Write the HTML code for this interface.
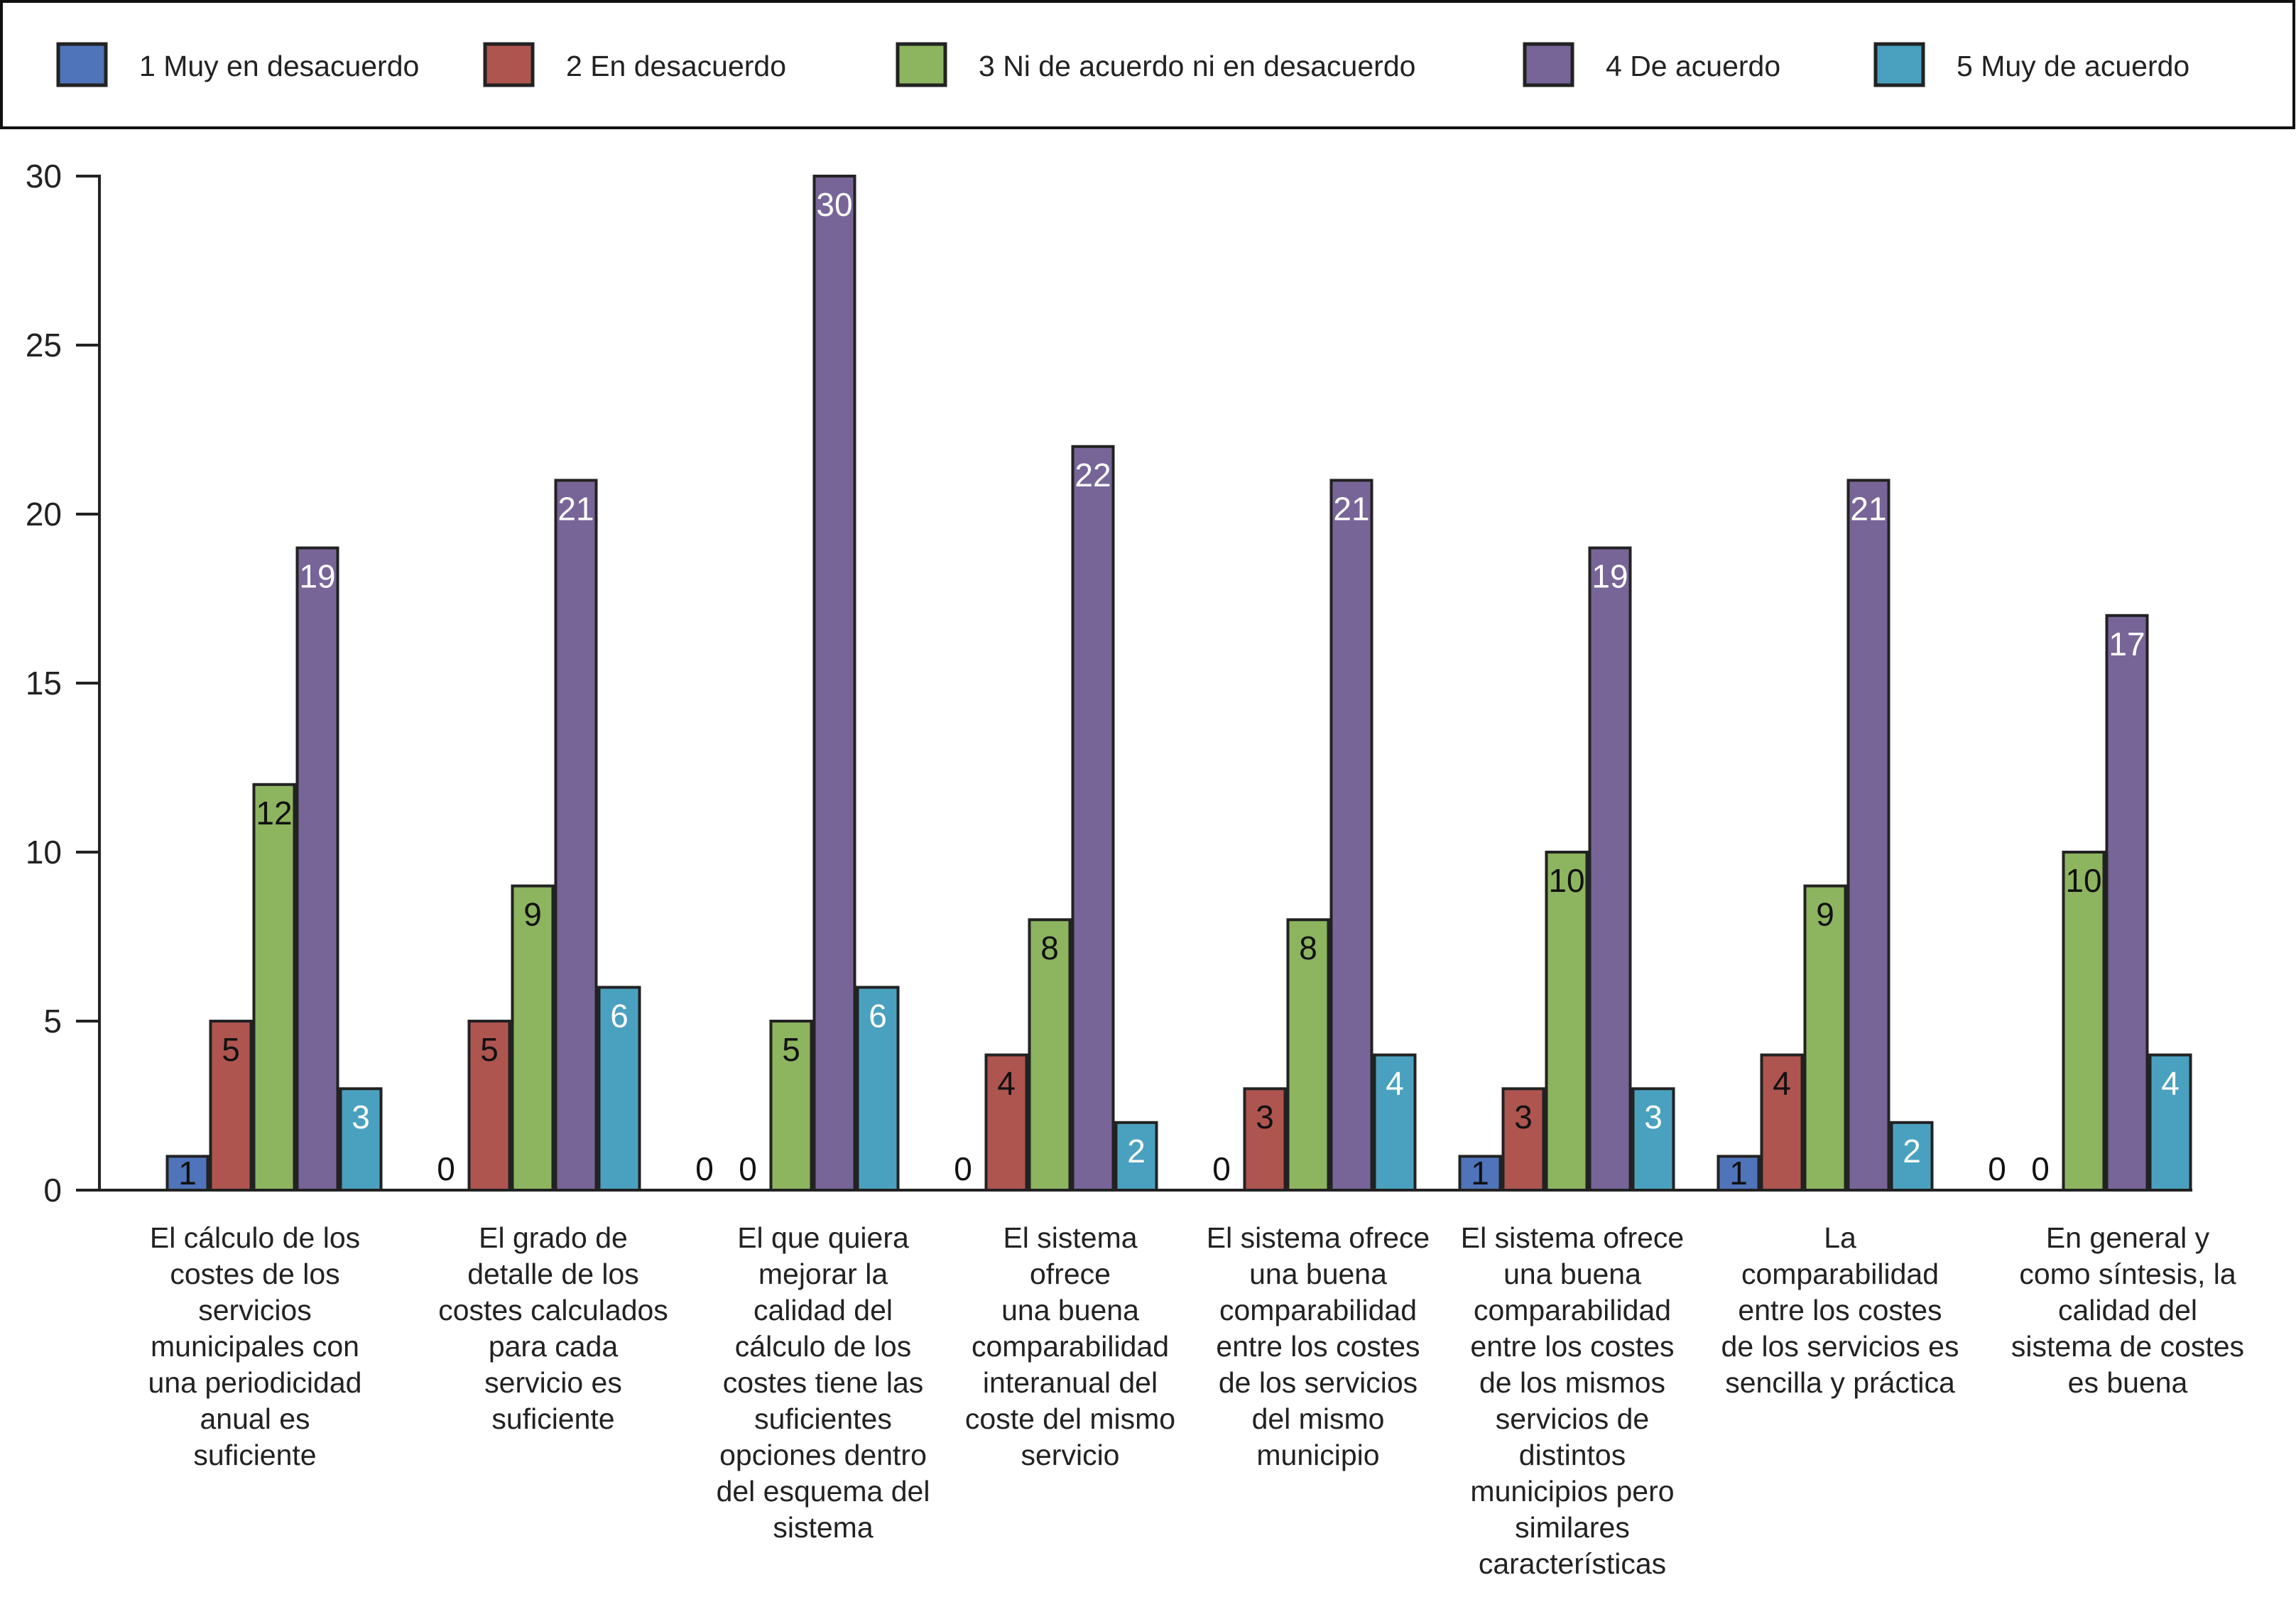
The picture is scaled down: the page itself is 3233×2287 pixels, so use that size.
<!DOCTYPE html>
<html><head><meta charset="utf-8"><style>
html,body{margin:0;padding:0;background:#fff;}
svg{display:block;font-family:"Liberation Sans",Arial,sans-serif;}
</style></head><body>
<svg id="chart" width="3233" height="2287" viewBox="0 0 3233 2287">
<rect x="2" y="2" width="3228" height="178" fill="#fff" stroke="#111" stroke-width="4"/>
<g id="legend"></g>
<g id="axes"></g>
<g id="bars"></g>
<g id="cats"></g>
</svg>
<script>
const seriesNames = ["1 Muy en desacuerdo","2 En desacuerdo","3 Ni de acuerdo  ni en desacuerdo","4 De acuerdo","5 Muy de acuerdo"];
const muyDesacuerdo = [1,0,0,0,0,1,1,0];
const desacuerdo = [5,5,0,4,3,3,4,0];
const neutral = [12,9,5,8,8,10,9,10];
const deAcuerdo = [19,21,30,22,21,19,21,17];
const muyDeAcuerdo = [3,6,6,2,4,3,2,4];
const yTicks = [0,5,10,15,20,25,30];
const categories = [
 ["El cálculo de los","costes de los","servicios","municipales con","una periodicidad","anual es","suficiente"],
 ["El grado de","detalle de los","costes calculados","para cada","servicio es","suficiente"],
 ["El que quiera","mejorar la","calidad del","cálculo de los","costes tiene las","suficientes","opciones dentro","del esquema del","sistema"],
 ["El sistema","ofrece","una buena","comparabilidad","interanual del","coste del mismo","servicio"],
 ["El sistema ofrece","una buena","comparabilidad","entre los costes","de los servicios","del mismo","municipio"],
 ["El sistema ofrece","una buena","comparabilidad","entre los costes","de los mismos","servicios de","distintos","municipios pero","similares","características"],
 ["La","comparabilidad","entre los costes","de los servicios es","sencilla y práctica"],
 ["En general y","como síntesis, la","calidad del","sistema de costes","es buena"]
];
const series = [muyDesacuerdo,desacuerdo,neutral,deAcuerdo,muyDeAcuerdo];
const colors = ["#4f74b9","#ae5550","#8db45f","#776598","#4aa1bf"];
const labelColors = ["#111","#111","#111","#fff","#fff"];
const NS="http://www.w3.org/2000/svg";
function mk(tag,attrs,parent,text){const e=document.createElementNS(NS,tag);for(const k in attrs)e.setAttribute(k,attrs[k]);if(text!==undefined)e.textContent=text;parent.appendChild(e);return e;}
const y0=1676, yTop=248, x0=140, xEnd=3087;
function yScale(v){return y0-(y0-yTop)*v/30;}
const barW=57, barStep=61;
function groupCenter(i){return 386+i*364;}
function barX(i,s){return groupCenter(i)+(s-2)*barStep-barW/2;}
const labelShift=[-27,29,45,29,14,8,21,62];
// legend
const lg=document.getElementById('legend');
const swX=[82,683,1264,2147,2641];
seriesNames.forEach((n,s)=>{
 const r=mk('rect',{x:swX[s],y:62,width:67,height:58,fill:colors[s],stroke:'#222','stroke-width':5},lg);
 
 
 const t=mk('text',{x:swX[s]+114,y:107,'font-size':41,fill:'#222','xml:space':'preserve'},lg,n);
 
 
});
// axes
const ax=document.getElementById('axes');
const yl=mk('line',{x1:x0,y1:yTop-2,x2:x0,y2:y0+2,stroke:'#222','stroke-width':4},ax);


const xl=mk('line',{x1:x0-2,y1:y0,x2:xEnd,y2:y0,stroke:'#222','stroke-width':4},ax);


yTicks.forEach(v=>{
 const tk=mk('line',{x1:107,y1:yScale(v),x2:x0,y2:yScale(v),stroke:'#222','stroke-width':4},ax);
 
 
 const t=mk('text',{x:87,y:yScale(v)+16,'font-size':46,'text-anchor':'end',fill:'#222'},ax,String(v));
 
 
});
// bars
const bg=document.getElementById('bars');
series.forEach((arr,s)=>{
 arr.forEach((v,i)=>{
  const x=barX(i,s), y=yScale(v);
  if(v>0){
   const r=mk('rect',{x:x,y:y,width:barW,height:y0-y,fill:colors[s],stroke:'#222','stroke-width':4},bg);
   
   
   const t=mk('text',{x:x+barW/2,y:v===1?y0-8:y+56,'font-size':46,'text-anchor':'middle',fill:labelColors[s]},bg,String(v));
   
   
  } else {
   const t=mk('text',{x:x+barW/2,y:y0-14,'font-size':46,'text-anchor':'middle',fill:'#111'},bg,'0');
   
   
  }
 });
});
// categories
const cg=document.getElementById('cats');
categories.forEach((lines,i)=>{
 const cx=groupCenter(i)+labelShift[i];
 const t=mk('text',{x:cx,y:1757,'font-size':41,'text-anchor':'middle',fill:'#222'},cg);
 
 
 lines.forEach((ln,k)=>{mk('tspan',{x:cx,dy:k===0?0:51},t,ln);});
});
</script>
</body></html>
